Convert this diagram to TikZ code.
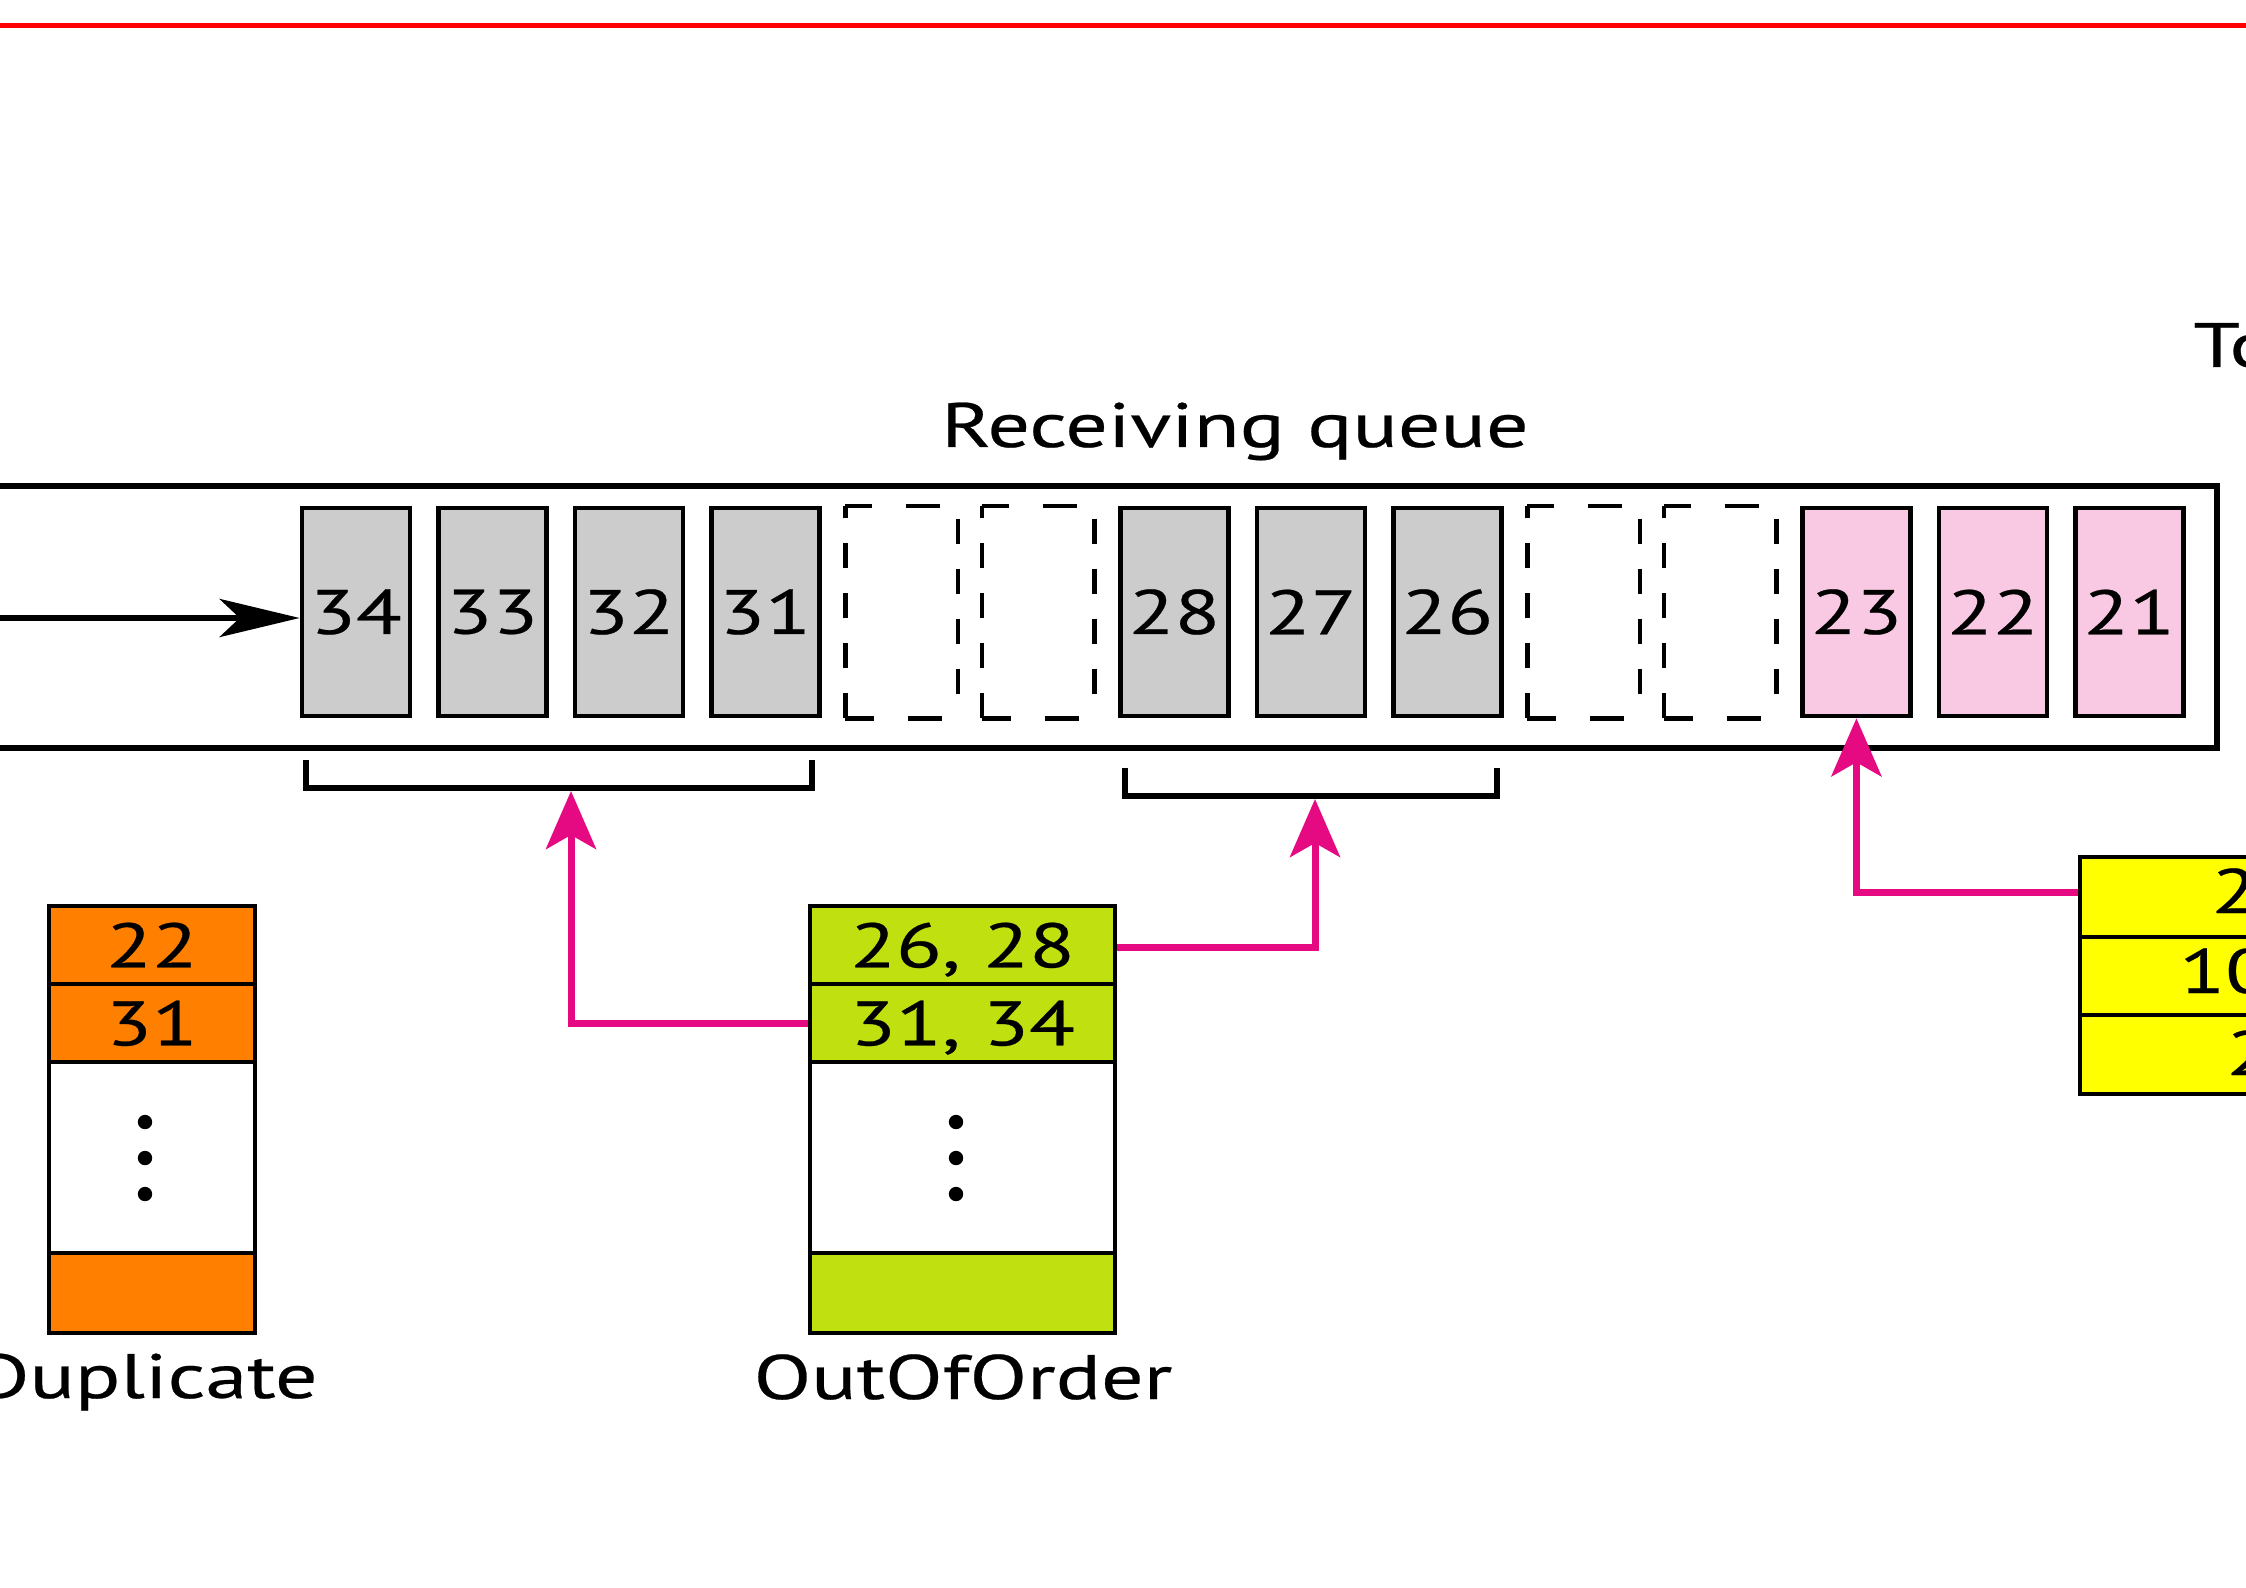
\documentclass[tikz,border=0pt]{standalone}
\usepackage{fontspec}
\setmainfont{PT Sans}[FakeStretch=1.34, FakeBold=0.4]
\usetikzlibrary{arrows.meta}
\definecolor{pk}{RGB}{230,10,130}
\definecolor{grayf}{RGB}{204,204,204}
\definecolor{pinkf}{RGB}{249,200,226}
\definecolor{orng}{RGB}{255,128,0}
\definecolor{limef}{RGB}{192,224,16}
\definecolor{ylw}{RGB}{255,255,0}
\tikzset{
  pkbase/.style={draw=black, line width=2.3pt, minimum width=54pt, minimum height=104pt, inner sep=0pt},
  gp/.style={pkbase, fill=grayf},
  pp/.style={pkbase, fill=pinkf},
  ep/.style={pkbase, draw=none},
  dv/.style={line width=2.2pt, dash pattern=on 12.5pt off 12.5pt},
  dh/.style={line width=2.2pt, dash pattern=on 17pt off 17pt},
  cell/.style={draw=black, line width=1.8pt, inner sep=0pt, text depth=0pt},
  lbl/.style={inner sep=0pt},
  brk/.style={line width=3.3pt},
  blackarrow/.style={line width=3.3pt, -{Stealth[length=40pt, width=19pt, inset=10pt]}},
  pkarrow/.style={draw=pk, line width=3.5pt, -{Stealth[length=29pt, width=25pt, inset=7pt]}, fill=none},
}
\begin{document}
\begin{tikzpicture}[x=0.5pt, y=-0.5pt, font=\fontsize{31.4pt}{36pt}\selectfont]
\useasboundingbox (0,0) rectangle (2246,1588);
\clip (0,0) rectangle (2246,1588);
% red rule
\draw[red, line width=2.5pt] (-10,26) -- (2256,26);
% outer queue box
\draw[line width=3pt] (-30,486) rectangle (2217,748);
% packets
\foreach \i/\t/\st in {0/34/gp,1/33/gp,2/32/gp,3/31/gp,4//ep,5//ep,6/28/gp,7/27/gp,8/26/gp,9//ep,10//ep,11/23/pp,12/22/pp,13/21/pp}
  \node[\st] (q\i) at ({356+136.4*\i},612) {\t};
\foreach \i in {4,5,9,10} {
  \draw[dv] (q\i.south west) -- (q\i.north west);
  \draw[dh, dash phase=3.5pt] (q\i.north west) -- (q\i.north east);
  \draw[dv, dash phase=18.5pt] (q\i.north east) -- (q\i.south east);
  \draw[dh, dash phase=2.5pt] (q\i.south west) -- (q\i.south east);
}
% incoming arrow
\coordinate (in) at (-20,618);
\draw[blackarrow] (in) -- (in -| q0.west);
% brackets
\draw[brk] (306,760) -- (306,788) -- (812,788) -- (812,760);
\draw[brk] (1125,768) -- (1125,796) -- (1497,796) -- (1497,768);
\coordinate (b1) at (571,791);
\coordinate (b2) at (1315,799);
% texts
\node[lbl, anchor=base] (rq) at (1235,447) {Receiving queue};
\node[lbl, anchor=base west] (tp) at (2193,367) {To process};
% Duplicate table
\node[cell, fill=orng, minimum width=103pt, minimum height=39pt] (d1) at (152,945) {22};
\node[cell, fill=orng, minimum width=103pt, minimum height=39pt] (d2) at (152,1023) {31};
\node[cell, fill=white, minimum width=103pt, minimum height=95.5pt] (d3) at (152,1157.5) {};
\node[cell, fill=orng, minimum width=103pt, minimum height=40pt] (d4) at (152,1293) {};
\foreach \yy in {1122,1158,1194} \fill (145,\yy) circle (3.6pt);
\node[lbl, anchor=base east] (dl) at (318,1398) {Duplicate};
% OutOfOrder table
\node[cell, fill=limef, minimum width=152.5pt, minimum height=39pt] (o1) at (962.5,945) {26, 28};
\node[cell, fill=limef, minimum width=152.5pt, minimum height=39pt] (o2) at (962.5,1023) {31, 34};
\node[cell, fill=white, minimum width=152.5pt, minimum height=95.5pt] (o3) at (962.5,1157.5) {};
\node[cell, fill=limef, minimum width=152.5pt, minimum height=40pt] (o4) at (962.5,1293) {};
\foreach \yy in {1122,1158,1194} \fill (956,\yy) circle (3.6pt);
\node[lbl, anchor=base] (ol) at (963,1399) {OutOfOrder};
% yellow table
\node[cell, fill=ylw, anchor=west, minimum width=200pt, minimum height=40pt] (y1) at (2078,897) {};
\node[cell, fill=ylw, anchor=west, minimum width=200pt, minimum height=39pt] (y2) at (2078,976) {};
\node[cell, fill=ylw, anchor=west, minimum width=200pt, minimum height=39.5pt] (y3) at (2078,1054.5) {};
\node[lbl, anchor=base west] (t1) at (2211,913) {23};
\node[lbl, anchor=base west] (t2) at (2179,993) {1000};
\node[lbl, anchor=base west] (t3) at (2226,1075) {2};
% pink arrows
\draw[pkarrow] (o2.west) -| (b1);
\draw[pkarrow] ([yshift=-1pt]o1.east) -| (b2);
\draw[pkarrow] ([yshift=2.5pt]y1.west) -| (q11.south);
\end{tikzpicture}
\end{document}
